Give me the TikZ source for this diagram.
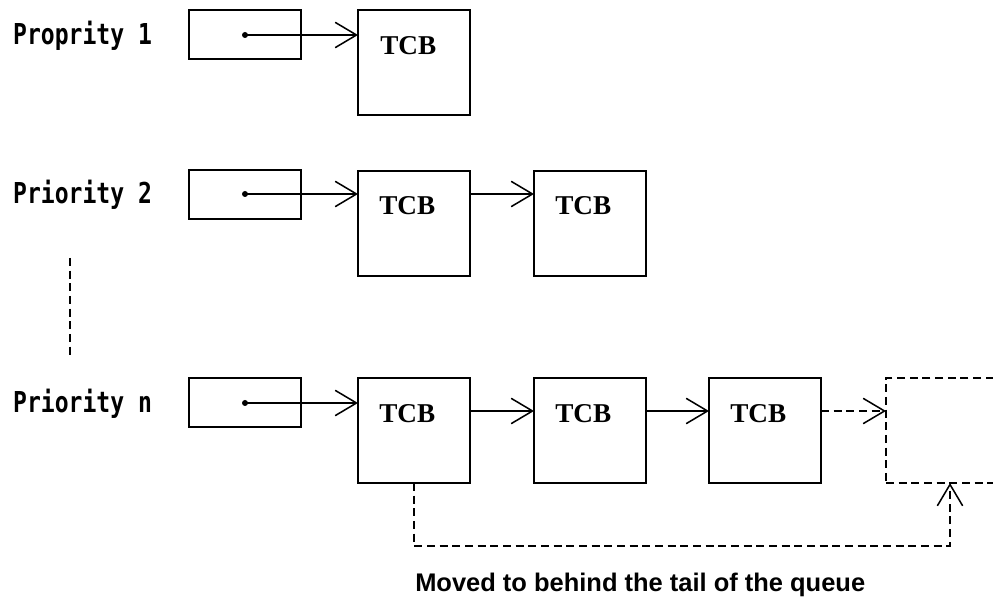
\documentclass[tikz,border=0pt]{standalone}
\usepackage{fontspec}
\usetikzlibrary{arrows.meta}
\newfontfamily\labfont{DejaVu Sans Mono}
\newfontfamily\tcbfont{Liberation Serif}
\newfontfamily\capfont{Liberation Sans}
\begin{document}
\begin{tikzpicture}[x=0.75pt,y=-0.75pt,
  ln/.style={line width=1.15pt},
  ptrbox/.style={draw,ln,rectangle,inner sep=0,outer sep=0,minimum width=84pt,minimum height=36.75pt,anchor=north west},
  tcbbox/.style={draw,ln,rectangle,inner sep=0,outer sep=0,minimum width=84pt,minimum height=78.75pt,anchor=north west},
  ghostbox/.style={draw,ln,dashpat,rectangle,inner sep=0,outer sep=0,minimum width=96pt,minimum height=78.75pt,anchor=north west},
  dashpat/.style={dash pattern=on 6pt off 3.5pt},
  arr/.style={ln,-{Straight Barb[length=16pt,width=19pt,line width=1.15pt]}},
  lab/.style={anchor=base west,inner sep=0,font=\labfont\bfseries\fontsize{21.6pt}{24pt}\selectfont,xscale=0.8},
  tcbtxt/.style={anchor=base west,inner sep=0,font=\tcbfont\bfseries\fontsize{20.4pt}{24pt}\selectfont},
  captxt/.style={anchor=base west,inner sep=0,font=\capfont\bfseries\fontsize{19.1pt}{22pt}\selectfont},
  dotc/.style={circle,fill,inner sep=0,minimum size=4.5pt}
]
\clip (0,0) rectangle (993,598);
\fill[white] (0,0) rectangle (993,598);

% labels
\node[lab] (l1) at (13,45) {Proprity 1};
\node[lab] (l2) at (13,204) {Priority 2};
\node[lab] (ln) at (13,413) {Priority n};
\coordinate (vtop) at (70,258);
\coordinate (vbot) at (70,355);
\draw[ln,dashpat] (vtop) -- (vbot);

% row 1
\node[ptrbox] (p1) at (189,10) {};
\node[tcbbox] (t11) at (358,10) {};
\node[tcbtxt] (x11) at (380,55) {TCB};
\node[dotc] (d1) at (245,35) {};
\draw[arr] (d1.center) -- (t11.west |- d1);

% row 2
\node[ptrbox] (p2) at (189,170) {};
\node[tcbbox] (t21) at (358,171) {};
\node[tcbbox] (t22) at (534,171) {};
\node[tcbtxt] (x21) at (379,215) {TCB};
\node[tcbtxt] (x22) at (555,215) {TCB};
\node[dotc] (d2) at (245,194) {};
\draw[arr] (d2.center) -- (t21.west |- d2);
\coordinate (r2) at (470,194);
\draw[arr] (t21.east |- r2) -- (t22.west |- r2);

% row n
\node[ptrbox] (pn) at (189,378) {};
\node[tcbbox] (tn1) at (358,378) {};
\node[tcbbox] (tn2) at (534,378) {};
\node[tcbbox] (tn3) at (709,378) {};
\node[ghostbox] (tn4) at (886,378) {};
\node[tcbtxt] (xn1) at (379,423) {TCB};
\node[tcbtxt] (xn2) at (555,423) {TCB};
\node[tcbtxt] (xn3) at (730,423) {TCB};
\node[dotc] (dn) at (245,403) {};
\draw[arr] (dn.center) -- (tn1.west |- dn);
\coordinate (rn) at (600,411);
\draw[arr] (tn1.east |- rn) -- (tn2.west |- rn);
\draw[arr] (tn2.east |- rn) -- (tn3.west |- rn);
\draw[arr,dashpat] (tn3.east |- rn) -- (tn4.west |- rn);

% move-back path
\coordinate (bl) at (414,546);
\draw[arr,dashpat] (tn1.south) -- (tn1.south |- bl) -- (tn4.south |- bl) -- (tn4.south);

\node[captxt] (cap) at (415,591) {Moved to behind the tail of the queue};
\end{tikzpicture}
\end{document}
